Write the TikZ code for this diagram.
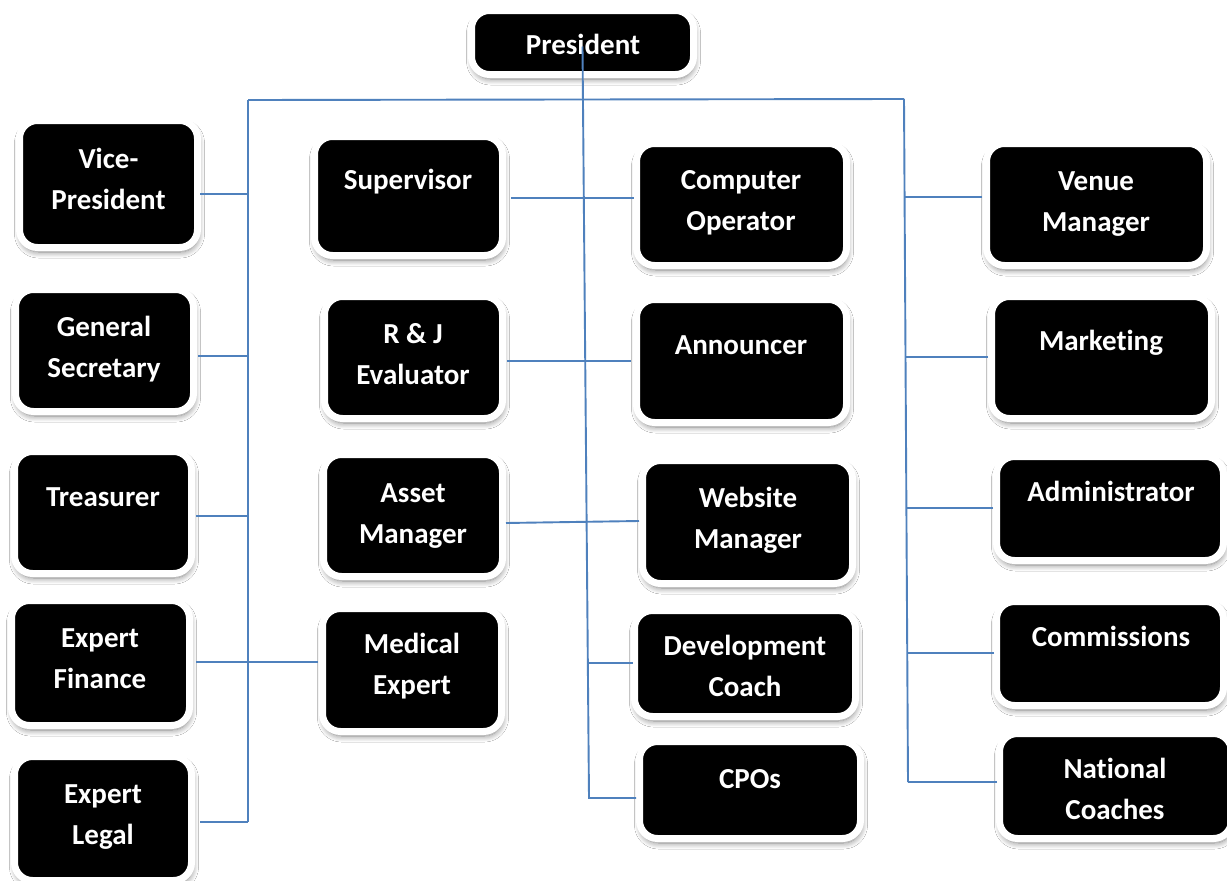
\documentclass[tikz,border=0pt]{standalone}
\usepackage{fontspec}
\setmainfont{Carlito}[Ligatures=NoCommon]
\usetikzlibrary{shadows.blur}
\definecolor{linkblue}{HTML}{4F81BD}
\tikzset{
  post/.style={fill=black, draw=white, line width=7pt, rounded corners=18pt,
    inner sep=0pt,
    blur shadow={shadow xshift=1pt, shadow yshift=-4.5pt,
      shadow blur radius=6pt, shadow blur steps=10, shadow opacity=50}},
  title/.style={text=white, font=\fontsize{29}{41}\selectfont\bfseries,
    align=center, inner sep=0pt},
  link/.style={draw=linkblue, line width=1.9pt},
}
% #1 name, #2-#5 corners of the black face, #6,#7 text centre, #8 text
\newcommand\orgpost[8]{%
  \pgfmathsetmacro\postcx{(#2+#4)/2}%
  \pgfmathsetmacro\postcy{(#3+#5)/2}%
  \pgfmathsetmacro\postw{#4-#2+7}%
  \pgfmathsetmacro\posth{#5-#3+7}%
  \node[post, minimum width=\postw pt, minimum height=\posth pt] (#1) at (\postcx,\postcy) {};
  \node[title] (#1-t) at (#6,#7) {#8};
}
\begin{document}
\begin{tikzpicture}[x=1pt, y=-1pt]
  \fill[white] (0,0) rectangle (1227,881);
  \useasboundingbox (0,0) rectangle (1227,881);

  % posts
  \orgpost{pres}{475}{14}{690}{71}{583}{46}{\strut President}
  \orgpost{vp}{23}{124}{194}{244}{108.5}{181}{\strut Vice-\\\strut President}
  \orgpost{gs}{19}{293}{190}{408}{104}{349}{\strut General\\\strut Secretary}
  \orgpost{tr}{18}{455}{188}{570}{103}{498}{\strut Treasurer}
  \orgpost{ef}{15}{604}{186}{722}{100}{660}{\strut Expert\\\strut Finance}
  \orgpost{el}{18}{760}{188}{877}{103}{816}{\strut Expert\\\strut Legal}
  \orgpost{sv}{318}{140}{499}{252}{408}{181}{\strut Supervisor}
  \orgpost{rj}{328}{300}{499}{415}{413}{356}{\strut R \& J\\\strut Evaluator}
  \orgpost{am}{327}{458}{499}{573}{413}{515}{\strut Asset\\\strut Manager}
  \orgpost{me}{326}{612}{498}{728}{412}{666}{\strut Medical\\\strut Expert}
  \orgpost{co}{640}{147}{843}{262}{741}{202}{\strut Computer\\\strut Operator}
  \orgpost{an}{640}{303}{843}{419}{741}{346}{\strut Announcer}
  \orgpost{wm}{646}{464}{849}{580}{748}{520}{\strut Website\\\strut Manager}
  \orgpost{dc}{638}{614}{852}{713}{745}{668}{\strut Development\\\strut Coach}
  \orgpost{cp}{643}{745}{857}{835}{750}{780}{\strut CPOs}
  \orgpost{vm}{990}{147}{1203}{262}{1096}{203}{\strut Venue\\\strut Manager}
  \orgpost{mk}{995}{300}{1208}{415}{1101}{342}{\strut Marketing}
  \orgpost{ad}{1000}{460}{1220}{557}{1111}{493}{\strut Administrator}
  \orgpost{cm}{1000}{605}{1220}{702}{1111}{638}{\strut Commissions}
  \orgpost{nc}{1003}{737}{1228}{835}{1115}{791}{\strut National\\\strut Coaches}

  % bus lines
  \coordinate (lt) at (248,100);
  \coordinate (lb) at (248,822);
  \coordinate (rt) at (904,99);
  \coordinate (rb) at (908,782);
  \coordinate (cb) at (589,798);
  \coordinate (dj) at (588,663);
  \draw[link] (lt) -- (rt);
  \draw[link] (lt) -- (lb);
  \draw[link] (rt) -- (rb);
  \draw[link] ([yshift=-4pt]pres.center) -- (cb) -- ([xshift=0pt,yshift=-8pt]cp.west);
  \draw[link] (dj) -- ([xshift=2pt,yshift=0.5pt]dc.west);

  % left branches
  \draw[link] ([xshift=-1pt,yshift=-10pt]vp.east) -- ++(48,0);
  \draw[link] ([xshift=1pt,yshift=-5.5pt]gs.east) -- ++(50,0);
  \draw[link] ([xshift=1pt,yshift=-3.5pt]tr.east) -- ++(52,0);
  \draw[link] ([xshift=3pt,yshift=1pt]ef.east) -- ([xshift=-1pt,yshift=8pt]me.west);
  \draw[link] ([xshift=5pt,yshift=-3.5pt]el.east) -- (lb);

  % middle pairs
  \draw[link] ([xshift=5pt,yshift=-2pt]sv.east) -- ([xshift=1pt,yshift=6.5pt]co.west);
  \draw[link] ([xshift=1pt,yshift=-3.5pt]rj.east) -- ([xshift=-2pt]an.west);
  \draw[link] ([xshift=0pt,yshift=-7.5pt]am.east) -- ([xshift=0pt,yshift=1pt]wm.west);

  % right branches
  \draw[link] ([xshift=-1pt,yshift=7.5pt]vm.west) -- ++(-77.4,0);
  \draw[link] ([xshift=0pt,yshift=0.5pt]mk.west) -- ++(-82.5,0);
  \draw[link] ([xshift=0pt,yshift=0.5pt]ad.west) -- ++(-86.6,0);
  \draw[link] ([xshift=1pt,yshift=0.5pt]cm.west) -- ++(-86.8,0);
  \draw[link] ([xshift=1pt,yshift=4pt]nc.west) -- (rb);
\end{tikzpicture}
\end{document}
